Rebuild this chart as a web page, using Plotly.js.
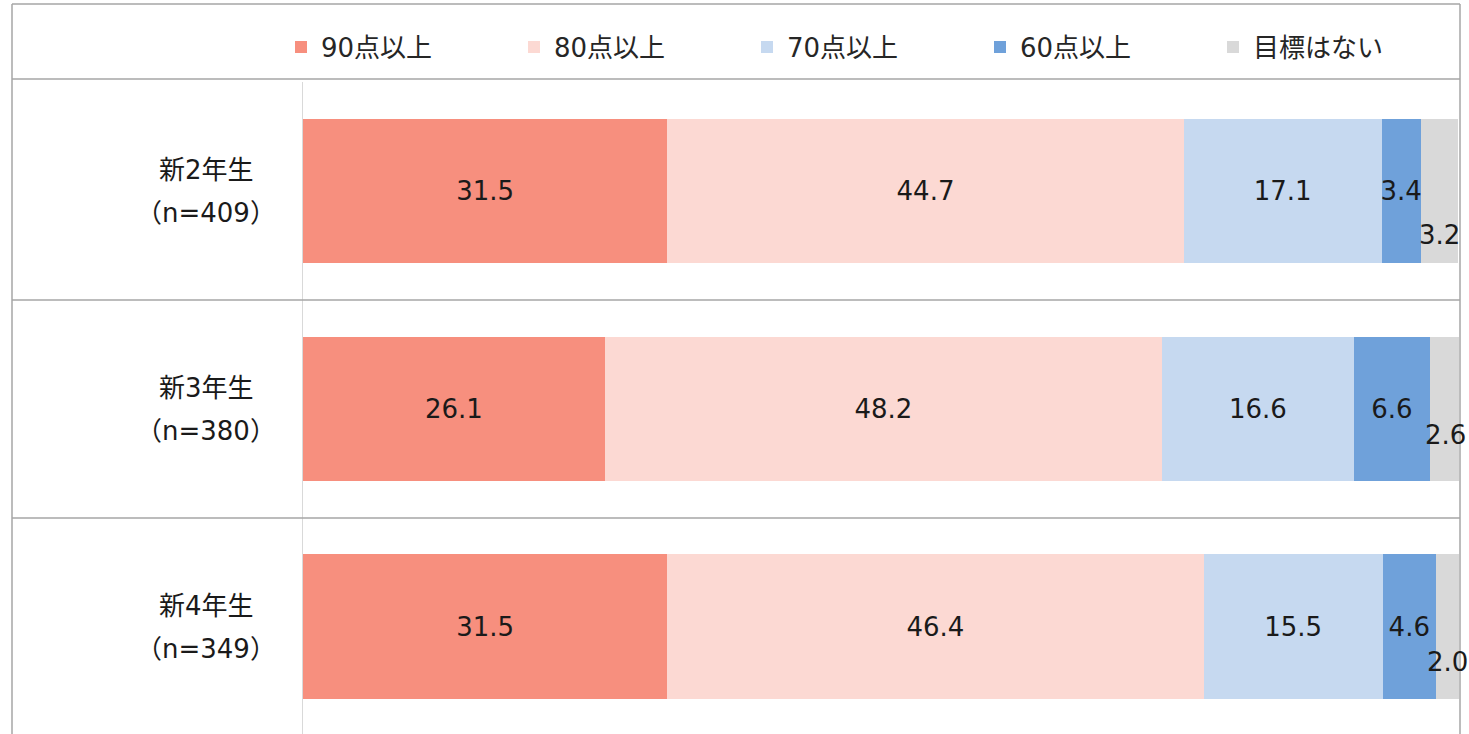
<!DOCTYPE html>
<html>
<head>
<meta charset="utf-8">
<script src="https://cdn.plot.ly/plotly-3.0.1.min.js"></script>
<style>
  html, body { margin: 0; padding: 0; background: #fff; }
  #chart { width: 1469px; height: 734px; }
</style>
</head>
<body>
<div id="chart"></div>
<script>
// ---- data ----
const categories = ['新2年生', '新3年生', '新4年生'];
const sampleSizes = ['（n=409）', '（n=380）', '（n=349）'];
const seriesNames = ['90点以上', '80点以上', '70点以上', '60点以上', '目標はない'];
const score90 = [31.5, 26.1, 31.5];
const score80 = [44.7, 48.2, 46.4];
const score70 = [17.1, 16.6, 15.5];
const score60 = [3.4, 6.6, 4.6];
const noGoal  = [3.2, 2.6, 2.0];

// ---- style ----
const colors = ['#F78F7E', '#FCD9D3', '#C6D9F0', '#6FA1DA', '#D9D9D9'];
const FONT = 'DejaVu Sans, "Noto Sans CJK JP", sans-serif';
const FS = 26;
const TXT = '#1a1a1a';

const W = 1469, H = 734;
const ML = 303, MR = 10, MT = 82, MB = 0;
const PW = W - ML - MR, PH = H - MT - MB;
const yRange = [2.491, -0.5];
const px2x = p => (p - ML) / PW;
const py2y = p => (H - MB - p) / PH;
const dataY2paper = v => (yRange[0] - v) / (yRange[0] - yRange[1]);

const allSeries = [score90, score80, score70, score60, noGoal];

const traces = allSeries.map((vals, i) => {
  const isLast = i === allSeries.length - 1;
  return {
    type: 'bar',
    orientation: 'h',
    name: seriesNames[i],
    x: vals,
    y: categories,
    marker: { color: colors[i], line: { width: 0 } },
    text: isLast ? null : vals.map(v => v.toFixed(1)),
    textposition: isLast ? 'none' : 'inside',
    insidetextanchor: 'middle',
    constraintext: 'none',
    textangle: 0,
    insidetextfont: { family: FONT, size: FS, color: TXT },
    textfont: { family: FONT, size: FS, color: TXT },
    hoverinfo: 'x+name'
  };
});

// labels of the last (grey) segment sit below the bar centre
const greyLabelShift = [-44, -26, -35];
const annotations = [];
categories.forEach((c, j) => {
  let before = 0;
  for (let i = 0; i < allSeries.length - 1; i++) before += allSeries[i][j];
  annotations.push({
    xref: 'x', yref: 'y', x: before + noGoal[j] / 2, y: c,
    text: noGoal[j].toFixed(1), showarrow: false,
    yshift: greyLabelShift[j],
    font: { family: FONT, size: FS, color: TXT }
  });
  // row labels
  annotations.push({
    xref: 'paper', yref: 'y', x: px2x(206), y: c, xanchor: 'center',
    text: c, showarrow: false, yshift: 21,
    font: { family: FONT, size: FS, color: TXT }
  });
  annotations.push({
    xref: 'paper', yref: 'y', x: px2x(206), y: c, xanchor: 'center',
    text: sampleSizes[j], showarrow: false, yshift: -22,
    font: { family: FONT, size: FS, color: TXT }
  });
});

const lineStyle = { color: '#A6A6A6', width: 1.5 };
const shapes = [
  { type: 'line', xref: 'paper', yref: 'paper', x0: px2x(12), x1: px2x(1460), y0: py2y(4), y1: py2y(4), line: lineStyle },
  { type: 'line', xref: 'paper', yref: 'paper', x0: px2x(12), x1: px2x(1460), y0: py2y(79), y1: py2y(79), line: lineStyle },
  { type: 'line', xref: 'paper', yref: 'paper', x0: px2x(12), x1: px2x(1460), y0: dataY2paper(0.5), y1: dataY2paper(0.5), line: lineStyle },
  { type: 'line', xref: 'paper', yref: 'paper', x0: px2x(12), x1: px2x(1460), y0: dataY2paper(1.5), y1: dataY2paper(1.5), line: lineStyle },
  { type: 'line', xref: 'paper', yref: 'paper', x0: px2x(12), x1: px2x(12), y0: py2y(4), y1: py2y(740), line: lineStyle },
  { type: 'line', xref: 'paper', yref: 'paper', x0: px2x(1460), x1: px2x(1460), y0: py2y(4), y1: py2y(740), line: lineStyle }
];

const layout = {
  width: W, height: H,
  margin: { l: ML, r: MR, t: MT, b: MB, pad: 0 },
  paper_bgcolor: '#fff', plot_bgcolor: '#fff',
  barmode: 'stack',
  bargap: 0.335,
  font: { family: FONT, size: FS, color: TXT },
  xaxis: { range: [0, 100], showgrid: false, zeroline: false, showticklabels: false, ticks: '', showline: false, fixedrange: true },
  yaxis: { type: 'category', range: yRange, showgrid: false, zeroline: false, showticklabels: false, ticks: '',
           showline: true, linecolor: '#D9D9D9', linewidth: 1.5, fixedrange: true },
  showlegend: true,
  legend: {
    orientation: 'h', traceorder: 'normal',
    x: px2x(281), xanchor: 'left', y: py2y(47), yanchor: 'middle',
    entrywidth: 188, entrywidthmode: 'pixels',
    font: { family: FONT, size: FS, color: '#262626' },
    bgcolor: 'rgba(0,0,0,0)'
  },
  annotations: annotations,
  shapes: shapes
};

Plotly.newPlot('chart', traces, layout, { displayModeBar: false, staticPlot: true });
</script>
</body>
</html>
